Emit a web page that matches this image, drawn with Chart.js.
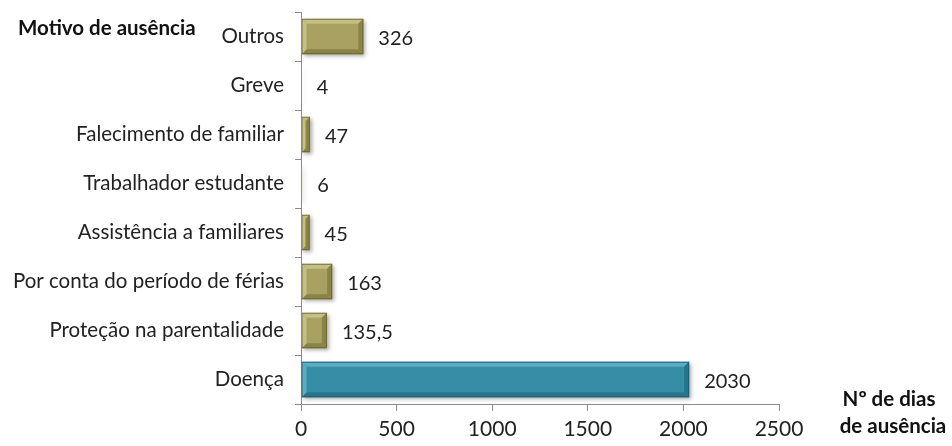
<!DOCTYPE html>
<html><head><meta charset="utf-8">
<script src="https://cdn.jsdelivr.net/npm/chart.js@4/dist/chart.umd.min.js"></script>
<style>body{margin:0;background:#fff}canvas{display:block}</style>
</head><body>
<canvas id="c" width="952" height="446"></canvas>
<script>
const categories = ["Outros","Greve","Falecimento de familiar","Trabalhador estudante","Assistência a familiares","Por conta do período de férias","Proteção na parentalidade","Doença"];
const days = [326, 4, 47, 6, 45, 163, 135.5, 2030];
const valueLabels = ["326","4","47","6","45","163","135,5","2030"];
const xTicks = [0, 500, 1000, 1500, 2000, 2500];

const olive = {face:'rgb(168,161,98)', light:'rgb(196,191,134)', dark:'rgb(138,131,72)', edge:'rgba(100,95,45,0.7)'};
const teal = {face:'rgb(56,141,166)', light:'rgb(92,172,194)', dark:'rgb(40,116,140)', edge:'rgba(25,85,105,0.7)'};
const palette = categories.map(c => c === 'Doença' ? teal : olive);

const FONT = 'Lato, "Open Sans", sans-serif';

const bevel = {
  id:'bevel',
  beforeDatasetDraw(chart){
    const ctx = chart.ctx; ctx.save();
    ctx.shadowColor='rgba(0,0,0,0.35)'; ctx.shadowBlur=4; ctx.shadowOffsetX=2; ctx.shadowOffsetY=2;
  },
  afterDatasetDraw(chart){
    const ctx = chart.ctx; ctx.restore();
    const meta = chart.getDatasetMeta(0);
    meta.data.forEach((el,i)=>{
      const p = palette[i];
      const x0 = Math.min(el.base, el.x), x1 = Math.max(el.base, el.x);
      const y0 = el.y - el.height/2, y1 = el.y + el.height/2;
      const w = x1-x0, h = y1-y0;
      if (w < 1) return;
      const b = Math.min(5, w/2, h/2);
      ctx.save();
      const poly=(pts,col)=>{ctx.beginPath();ctx.moveTo(pts[0][0],pts[0][1]);for(let k=1;k<pts.length;k++)ctx.lineTo(pts[k][0],pts[k][1]);ctx.closePath();ctx.fillStyle=col;ctx.fill();};
      poly([[x0,y0],[x1,y0],[x1-b,y0+b],[x0+b,y0+b]], p.light);
      poly([[x0,y1],[x1,y1],[x1-b,y1-b],[x0+b,y1-b]], p.dark);
      poly([[x0,y0],[x0+b,y0+b],[x0+b,y1-b],[x0,y1]], p.light);
      poly([[x1,y0],[x1-b,y0+b],[x1-b,y1-b],[x1,y1]], p.dark);
      ctx.strokeStyle=p.edge; ctx.lineWidth=1; ctx.strokeRect(x0+0.5,y0+0.5,w-1,h-1);
      ctx.restore();
    });
  },
  afterDraw(chart){
    const ctx = chart.ctx;
    const meta = chart.getDatasetMeta(0);
    ctx.save();
    ctx.fillStyle='#222'; ctx.font='20px '+FONT; ctx.textBaseline='middle'; ctx.textAlign='left';
    meta.data.forEach((el,i)=>{ ctx.fillText(valueLabels[i], Math.max(el.x, el.base)+15, el.y+2); });
    ctx.font='bold 20.5px '+FONT; ctx.fillStyle='#111';
    ctx.fillText('Motivo de ausência', 18, 28);
    ctx.textAlign='center';
    ctx.fillText('Nº de dias', 889, 399);
    ctx.fillText('de ausência', 893, 426);
    ctx.restore();
  }
};

new Chart(document.getElementById('c'), {
  type:'bar',
  data:{labels:categories, datasets:[{data:days, backgroundColor:palette.map(p=>p.face), borderWidth:0, barPercentage:0.72, categoryPercentage:1}]},
  options:{
    indexAxis:'y', responsive:false, animation:false,
    layout:{padding:{left:0,right:173,top:12,bottom:0}},
    plugins:{legend:{display:false}, tooltip:{enabled:false}},
    scales:{
      x:{min:0,max:2500,
        afterBuildTicks(s){ s.ticks = xTicks.map(v=>({value:v})); },
        afterFit(s){ s.height = 42; },
        grid:{drawOnChartArea:false, drawTicks:true, tickLength:7, color:'#8a8a8a', tickColor:'#8a8a8a'},
        border:{color:'#8a8a8a'},
        ticks:{color:'#222', font:{size:21, family:FONT}, padding:6, maxRotation:0, callback:v=>String(v)}},
      y:{
        afterFit(s){ s.width = 301; s.paddingTop = 0; s.paddingBottom = 0; },
        grid:{drawOnChartArea:false, offset:true, tickLength:6, color:'#8a8a8a', tickColor:'#8a8a8a'},
        border:{color:'#8a8a8a'},
        ticks:{color:'#222', font:{size:20.5, family:FONT}, padding:11}}
    }
  },
  plugins:[bevel]
});
</script>
</body></html>
